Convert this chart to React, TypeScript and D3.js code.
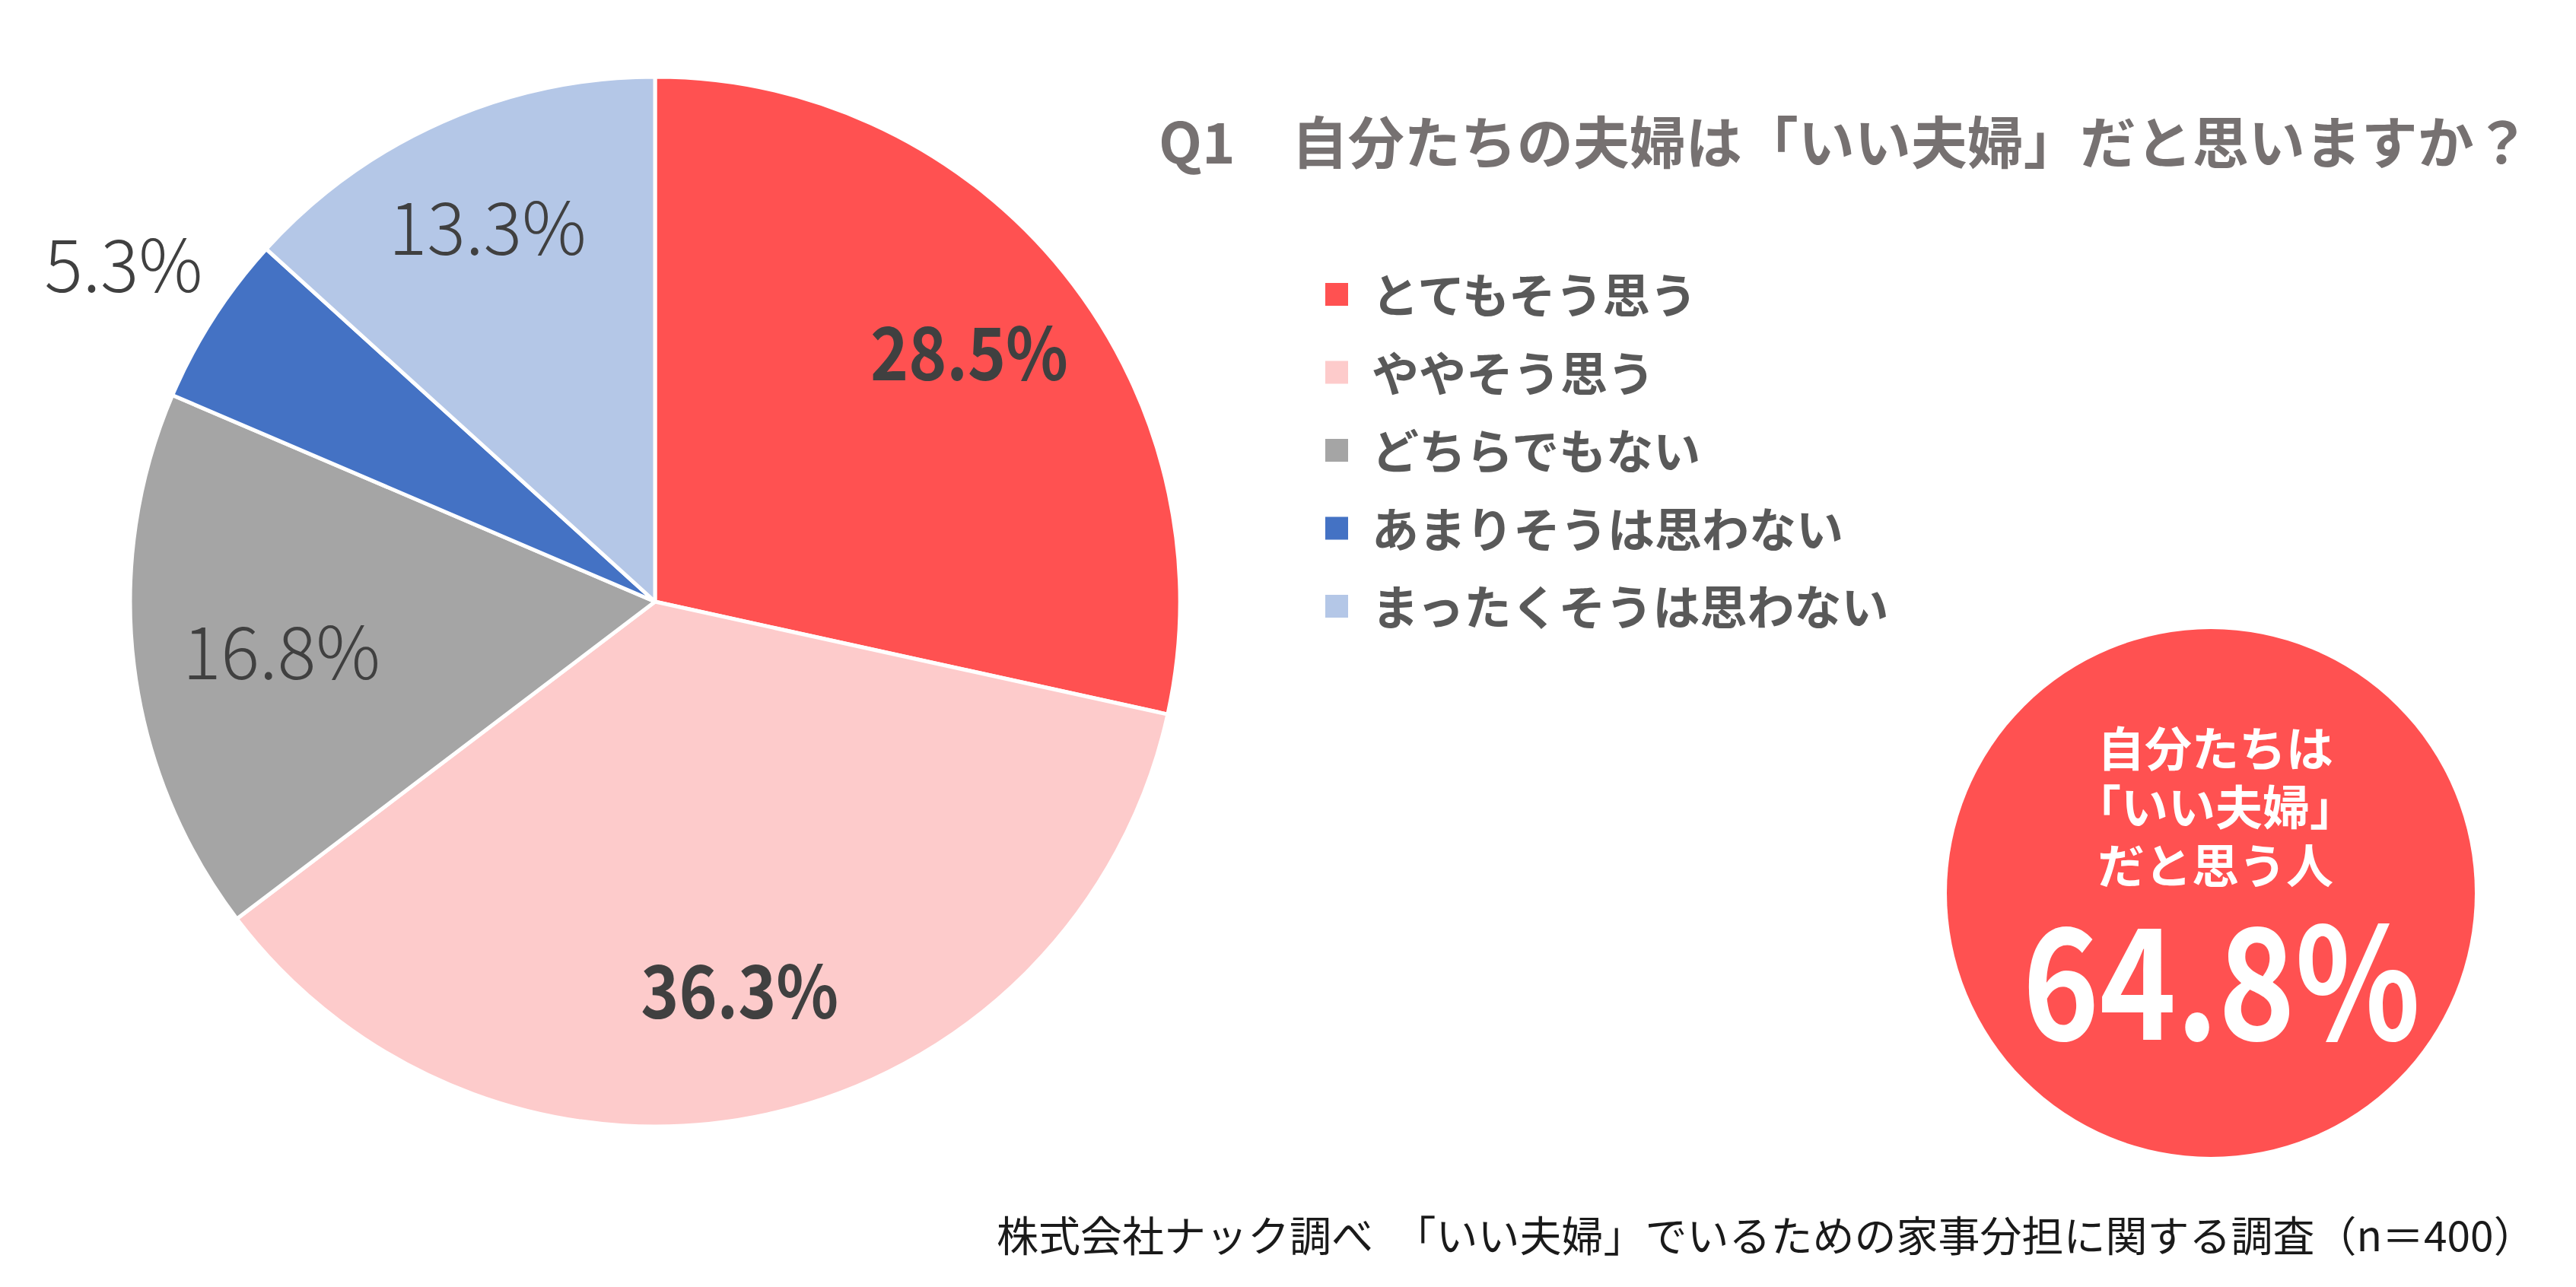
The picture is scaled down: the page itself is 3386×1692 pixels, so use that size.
import React from "react";
import * as d3 from "d3";

const categories = ["とてもそう思う", "ややそう思う", "どちらでもない", "あまりそうは思わない", "まったくそうは思わない"];
const values = [28.5, 36.3, 16.8, 5.3, 13.3];
const colors = ["#FF5151", "#FDCBCB", "#A5A5A5", "#4472C4", "#B4C7E7"];
const labelBold = [true, true, false, false, false];

const title = "Q1　自分たちの夫婦は「いい夫婦」だと思いますか？";
const badgeLines = ["自分たちは", "「いい夫婦」", "だと思う人"];
const badgeValue = 64.8;
const footer = "株式会社ナック調べ　「いい夫婦」でいるための家事分担に関する調査（n＝400）";

// layout: radial position of each data label as a fraction of the pie radius
const labelRadiusFactor = [0.768, 0.751, 0.717, 1.203, 0.788];

const W = 3386;
const H = 1692;
const FONT = "'Noto Sans CJK JP', 'Noto Sans', sans-serif";

export default function App() {
  const cx = 861;
  const cy = 791;
  const r = 690;
  const pie = d3.pie<number>().sort(null).value((d) => d);
  const arcs = pie(values);
  const arc = d3.arc<d3.PieArcDatum<number>>().innerRadius(0).outerRadius(r);
  const fmt = d3.format(".1f");

  const legendY = d3.scaleLinear().domain([0, categories.length - 1]).range([387, 797]);

  return (
    <svg
      width={W}
      height={H}
      viewBox={`0 0 ${W} ${H}`}
      style={{ position: "absolute", left: 0, top: 0, background: "#fff" }}
      fontFamily={FONT}
    >
      <rect width={W} height={H} fill="#fff" />
      <g transform={`translate(${cx},${cy})`}>
        {arcs.map((a, i) => (
          <path key={i} d={arc(a) || ""} fill={colors[i]} stroke="#fff" strokeWidth={5} strokeLinejoin="round" />
        ))}
        {arcs.map((a, i) => {
          const lr = r * labelRadiusFactor[i];
          const [x, y] = d3.arc<d3.PieArcDatum<number>>().innerRadius(lr).outerRadius(lr).centroid(a);
          const txt = `${fmt(values[i])}%`;
          return (
            <text
              key={"l" + i}
              x={x}
              y={y}
              textAnchor="middle"
              dominantBaseline="central"
              fontSize={96}
              fontWeight={labelBold[i] ? 700 : 300}
              fill="#404040"
              textLength={txt.length * 52}
              lengthAdjust="spacingAndGlyphs"
            >
              {txt}
            </text>
          );
        })}
      </g>

      <text x={1523} y={182} dominantBaseline="central" fontSize={74} fontWeight={700} fill="#767171" xmlSpace="preserve">
        {title}
      </text>

      {categories.map((c, i) => (
        <g key={"lg" + i}>
          <rect x={1742} y={legendY(i) - 15} width={30} height={30} fill={colors[i]} />
          <text x={1803} y={legendY(i) - 2} dominantBaseline="central" fontSize={62} fontWeight={700} fill="#595959">
            {c}
          </text>
        </g>
      ))}

      <circle cx={2906} cy={1174} r={347} fill="#FF5151" />
      {badgeLines.map((t, i) => (
        <text
          key={"b" + i}
          x={2912}
          y={981 + i * 77}
          textAnchor="middle"
          dominantBaseline="central"
          fontSize={62}
          fontWeight={700}
          fill="#fff"
        >
          {t}
        </text>
      ))}
      <text
        x={2920}
        y={1367}
        textAnchor="middle"
        fontSize={203}
        fontWeight={700}
        fill="#fff"
        textLength={523}
        lengthAdjust="spacingAndGlyphs"
      >
        {fmt(badgeValue)}%
      </text>

      <text x={1310} y={1621} dominantBaseline="central" fontSize={55} fontWeight={400} fill="#1a1a1a" xmlSpace="preserve">
        {footer}
      </text>
    </svg>
  );
}
